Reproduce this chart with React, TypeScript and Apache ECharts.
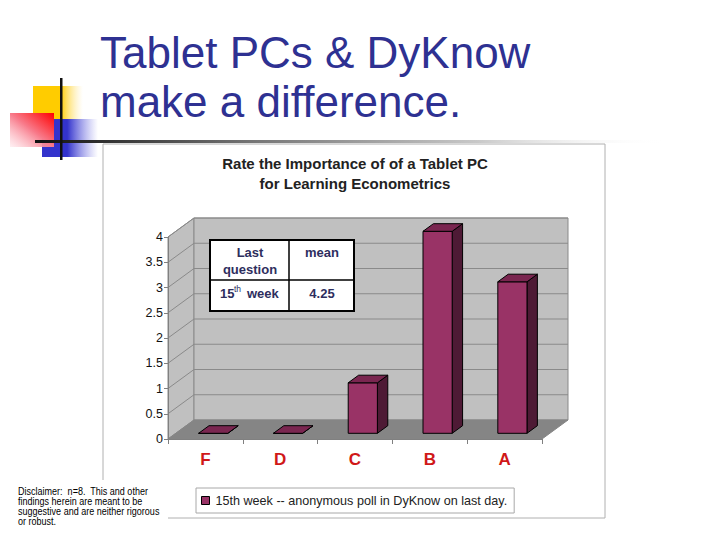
import React, { useEffect, useRef } from "react";
import * as echarts from "echarts";

// ---- data ----
const categories = ["F", "D", "C", "B", "A"];
const values = [0, 0, 1, 4, 3];
const yTickValues = [0.5, 1, 1.5, 2, 2.5, 3, 3.5, 4];
const seriesName = "15th week -- anonymous poll in DyKnow on last day.";
const slideTitle = ["Tablet PCs & DyKnow", "make a difference."];
const chartTitle = ["Rate the Importance of of a Tablet PC", "for Learning Econometrics"];
const tableHeader = ["Last\nquestion", "mean"];
const tableRow = ["15", "th", "week", "4.25"];
const disclaimer = [
  "Disclaimer:  n=8.  This and other",
  "findings herein are meant to be",
  "suggestive and are neither rigorous",
  "or robust.",
];

const FONT = "'Liberation Sans', Arial, Helvetica, sans-serif";
const DX = 26;
const DY = -19;
const FRONT = "#993366";
const TOP = "#7a2650";
const SIDE = "#4e1a35";
const WALL = "#c0c0c0";
const FLOOR = "#858585";
const GRID = "#8a8a8a";

export default function App() {
  const ref = useRef<HTMLDivElement>(null);
  useEffect(() => {
    if (!ref.current) return;
    const chart = echarts.init(ref.current, null, { renderer: "svg" });

    const wallRender = (params: any, api: any) => {
      const cs = params.coordSys;
      const x0 = cs.x, y0 = cs.y, w = cs.width, h = cs.height;
      const yb = y0 + h;
      const children: any[] = [
        {
          type: "polygon",
          shape: { points: [[x0, yb], [x0, y0], [x0 + DX, y0 + DY], [x0 + DX, yb + DY]] },
          style: { fill: WALL, stroke: GRID, lineWidth: 1 },
        },
        {
          type: "rect",
          shape: { x: x0 + DX, y: y0 + DY, width: w, height: h },
          style: { fill: WALL, stroke: GRID, lineWidth: 1 },
        },
        {
          type: "polygon",
          shape: { points: [[x0, yb], [x0 + w, yb], [x0 + w + DX, yb + DY], [x0 + DX, yb + DY]] },
          style: { fill: FLOOR, stroke: FLOOR, lineWidth: 1 },
        },
      ];
      yTickValues.forEach((v) => {
        const y = api.coord([0, v])[1];
        children.push({
          type: "polyline",
          shape: { points: [[x0, y], [x0 + DX, y + DY], [x0 + w + DX, y + DY]] },
          style: { stroke: GRID, lineWidth: 1, fill: null },
        });
      });
      return { type: "group", children };
    };

    const barRender = (params: any, api: any) => {
      const i = api.value(0);
      const v = api.value(1);
      const b = api.coord([i, 0]);
      const t = api.coord([i, v]);
      const bw = api.size([1, 0])[0] * 0.39;
      const fx = DX * 0.3, fy = DY * 0.3, dx = DX * 0.4, dy = DY * 0.4;
      const L = b[0] - bw / 2 + fx;
      const R = L + bw;
      const B = b[1] + fy;
      const T = t[1] + fy;
      const st = { stroke: "#000", lineWidth: 1 };
      return {
        type: "group",
        children: [
          {
            type: "polygon",
            shape: { points: [[R, T], [R + dx, T + dy], [R + dx, B + dy], [R, B]] },
            style: { fill: SIDE, ...st },
          },
          {
            type: "rect",
            shape: { x: L, y: T, width: bw, height: B - T },
            style: { fill: FRONT, ...st },
          },
          {
            type: "polygon",
            shape: { points: [[L, T], [R, T], [R + dx, T + dy], [L + dx, T + dy]] },
            style: { fill: TOP, ...st },
          },
        ],
      };
    };

    const tblColor = "#2e2e5e";
    const tblFont = { fontFamily: FONT, fontWeight: "bold", fontSize: 13, fill: tblColor };

    chart.setOption({
      animation: false,
      backgroundColor: "#fff",
      grid: { left: 168, top: 237, width: 374, height: 202, outerBoundsMode: "none" },
      xAxis: {
        type: "category",
        data: categories,
        axisLine: { lineStyle: { color: "#808080", width: 1 } },
        axisTick: { show: true, length: 5, lineStyle: { color: "#808080" } },
        axisLabel: { color: "#d01818", fontSize: 17, fontWeight: "bold", fontFamily: FONT, margin: 12 },
        z: 5,
      },
      yAxis: {
        type: "value",
        min: 0,
        max: 4,
        interval: 0.5,
        axisLine: { show: true, lineStyle: { color: "#808080", width: 1 } },
        axisTick: { show: true, length: 4, lineStyle: { color: "#808080" } },
        axisLabel: { color: "#111", fontSize: 12.5, fontFamily: FONT, margin: 5 },
        splitLine: { show: false },
        z: 5,
      },
      legend: {
        data: [seriesName],
        left: 196,
        top: 488,
        icon: "rect",
        itemWidth: 8,
        itemHeight: 8,
        itemGap: 4,
        padding: [6, 7, 6, 5],
        borderColor: "#a8a8a8",
        borderWidth: 1,
        backgroundColor: "#fff",
        itemStyle: { borderColor: "#000", borderWidth: 1 },
        textStyle: { fontSize: 12.6, color: "#222", fontFamily: FONT, padding: [0, 0, 0, 1] },
        selectedMode: false,
      },
      series: [
        {
          type: "custom",
          name: "walls",
          renderItem: wallRender,
          data: [[0, 0]],
          silent: true,
          z: 1,
        },
        {
          type: "custom",
          name: seriesName,
          renderItem: barRender,
          itemStyle: { color: FRONT },
          data: values.map((v, i) => [i, v]),
          z: 3,
        },
      ],
      graphic: [
        // chart frame
        {
          type: "rect",
          z: -10,
          shape: { x: 103, y: 144, width: 502, height: 374 },
          style: { fill: "#fff", stroke: "#b0b0b0", lineWidth: 1 },
        },
        {
          type: "rect",
          z: -9,
          shape: { x: 95, y: 480, width: 73, height: 50 },
          style: { fill: "#fff" },
        },
        // slide decorations
        {
          type: "rect",
          z: -5,
          shape: { x: 33, y: 86, width: 50, height: 33 },
          style: {
            fill: new echarts.graphic.LinearGradient(0, 0, 1, 0, [
              { offset: 0, color: "#ffcc00" },
              { offset: 0.55, color: "#ffcc00" },
              { offset: 1, color: "rgba(255,230,150,0)" },
            ]),
          },
        },
        {
          type: "rect",
          z: -5,
          shape: { x: 42, y: 119, width: 56, height: 38 },
          style: {
            fill: new echarts.graphic.LinearGradient(0, 0, 1, 0, [
              { offset: 0, color: "#3333cc" },
              { offset: 0.45, color: "#3333cc" },
              { offset: 1, color: "rgba(120,120,230,0)" },
            ]),
          },
        },
        {
          type: "rect",
          z: -4,
          shape: { x: 10, y: 113, width: 44, height: 34 },
          style: {
            fill: new echarts.graphic.LinearGradient(1, 0, 0, 1, [
              { offset: 0, color: "#ff0000" },
              { offset: 0.5, color: "#f87a8a" },
              { offset: 1, color: "rgba(255,230,235,0.6)" },
            ]),
          },
        },
        {
          type: "rect",
          z: -3,
          shape: { x: 35, y: 140, width: 632, height: 3 },
          style: {
            fill: new echarts.graphic.LinearGradient(0, 0, 1, 0, [
              { offset: 0, color: "#111" },
              { offset: 0.35, color: "#777" },
              { offset: 0.7, color: "#c8c8c8" },
              { offset: 1, color: "rgba(255,255,255,0)" },
            ]),
          },
        },
        {
          type: "rect",
          z: -2,
          shape: { x: 60, y: 78, width: 2.5, height: 82 },
          style: { fill: "#111" },
        },
        // slide title
        {
          type: "text",
          z: 5,
          x: 100,
          y: 52,
          style: { text: slideTitle[0], fontFamily: FONT, fontSize: 44, fill: "#2e3192", verticalAlign: "middle", align: "left" },
        },
        {
          type: "text",
          z: 5,
          x: 100,
          y: 101,
          style: { text: slideTitle[1], fontFamily: FONT, fontSize: 44, fill: "#2e3192", verticalAlign: "middle", align: "left" },
        },
        // chart title
        {
          type: "text",
          z: 5,
          x: 355,
          y: 163.5,
          style: { text: chartTitle[0], fontFamily: FONT, fontSize: 15, fontWeight: "bold", fill: "#222", align: "center", verticalAlign: "middle" },
        },
        {
          type: "text",
          z: 5,
          x: 355,
          y: 183.5,
          style: { text: chartTitle[1], fontFamily: FONT, fontSize: 15, fontWeight: "bold", fill: "#222", align: "center", verticalAlign: "middle" },
        },
        // inset table
        {
          type: "rect",
          z: 20,
          shape: { x: 210, y: 240, width: 144, height: 71 },
          style: { fill: "#fff", stroke: "#000", lineWidth: 2 },
        },
        { type: "line", z: 21, shape: { x1: 289, y1: 240, x2: 289, y2: 311 }, style: { stroke: "#000", lineWidth: 1.5 } },
        { type: "line", z: 21, shape: { x1: 210, y1: 280, x2: 354, y2: 280 }, style: { stroke: "#000", lineWidth: 1.5 } },
        {
          type: "text",
          z: 22,
          x: 250,
          y: 260.5,
          style: { text: tableHeader[0], ...tblFont, align: "center", verticalAlign: "middle", lineHeight: 17 },
        },
        {
          type: "text",
          z: 22,
          x: 322,
          y: 252,
          style: { text: tableHeader[1], ...tblFont, align: "center", verticalAlign: "middle" },
        },
        { type: "text", z: 22, x: 220, y: 293, style: { text: tableRow[0], ...tblFont, align: "left", verticalAlign: "middle" } },
        { type: "text", z: 22, x: 234, y: 288.5, style: { text: tableRow[1], ...tblFont, fontWeight: "normal", fontSize: 8.5, align: "left", verticalAlign: "middle" } },
        { type: "text", z: 22, x: 247, y: 293, style: { text: tableRow[2], ...tblFont, align: "left", verticalAlign: "middle" } },
        { type: "text", z: 22, x: 322, y: 293, style: { text: tableRow[3], ...tblFont, align: "center", verticalAlign: "middle" } },
        // disclaimer
        ...disclaimer.map((line, k) => ({
          type: "text",
          z: 5,
          x: 18,
          y: 491 + k * 10,
          scaleX: 0.86,
          style: { text: line, fontFamily: FONT, fontSize: 10.5, fill: "#000", align: "left", verticalAlign: "middle" },
        })),
      ],
    });
    return () => chart.dispose();
  }, []);
  return (
    <div
      ref={ref}
      style={{ position: "fixed", left: 0, top: 0, width: 720, height: 540, background: "#fff" }}
    />
  );
}
